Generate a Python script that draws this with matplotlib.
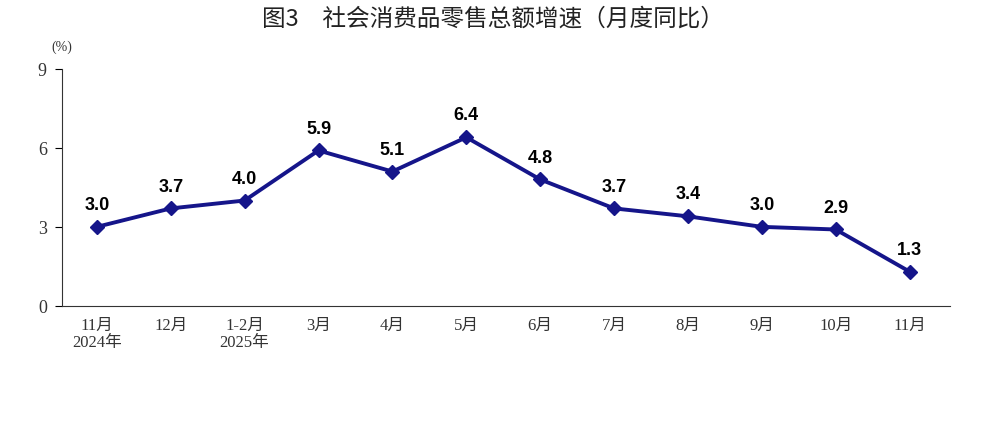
import matplotlib
matplotlib.use("Agg")
import matplotlib.pyplot as plt

categories = ["11月\n2024年", "12月", "1-2月\n2025年", "3月", "4月", "5月", "6月", "7月", "8月", "9月", "10月", "11月"]
values = [3.0, 3.7, 4.0, 5.9, 5.1, 6.4, 4.8, 3.7, 3.4, 3.0, 2.9, 1.3]
yticks = [0, 3, 6, 9]

fam = ["Liberation Serif", "Noto Sans CJK SC"]
fig = plt.figure(figsize=(9.86, 4.31), dpi=100)
ax = fig.add_axes([0.063, 0.288, 0.9, 0.55])
x = list(range(len(values)))
ax.plot(x, values, color="#15158a", lw=2.8, marker="D", ms=7, zorder=3)
for xi, v in zip(x, values):
    ax.annotate(f"{v:.1f}", (xi, v), xytext=(0, 10), textcoords="offset points",
                ha="center", va="bottom", fontsize=13, fontweight="bold",
                family=["Liberation Sans", "DejaVu Sans"])
ax.set_xlim(-0.47, 11.54)
ax.set_ylim(0, 9)
ax.set_yticks(yticks)
ax.set_yticklabels([str(t) for t in yticks], family=fam, fontsize=13, color="#333333")
ax.set_xticks(x)
ax.set_xticklabels(categories, family=fam, fontsize=12, color="#333333", linespacing=1.1)
ax.tick_params(axis="x", length=0, pad=8)
ax.tick_params(axis="y", length=5, direction="out", pad=6)
for s in ["top", "right"]:
    ax.spines[s].set_visible(False)
for s in ["left", "bottom"]:
    ax.spines[s].set_color("#333333")
ax.text(0.0, 1.08, "(%)", transform=ax.transAxes, family=fam, fontsize=10, color="#333333", ha="center")
fig.text(0.5, 0.955, "图3　社会消费品零售总额增速（月度同比）", ha="center", va="center",
         fontsize=17, family=["Noto Sans CJK SC", "DejaVu Sans"], color="#222222")
fig.savefig("out.png", dpi=100, facecolor="white")
